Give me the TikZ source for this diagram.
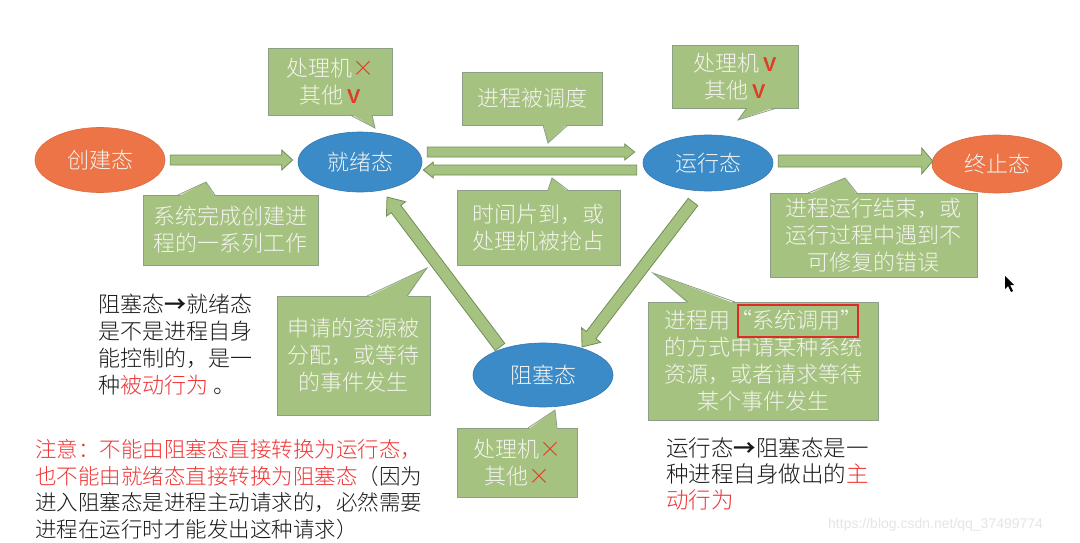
\documentclass[tikz,border=0pt]{standalone}
\usepackage{fontspec}
\setmainfont{Noto Sans CJK SC}[UprightFont=* Light, BoldFont=* Bold]
\newfontfamily\wmfont{Liberation Sans}
\usetikzlibrary{calc,shapes.geometric}
\definecolor{boxg}{HTML}{A6C280}
\definecolor{boxb}{HTML}{8A9F86}
\definecolor{arrg}{HTML}{A6C280}
\definecolor{arrb}{HTML}{6F8F55}
\definecolor{blueE}{HTML}{3B8BC9}
\definecolor{blueB}{HTML}{3478B0}
\definecolor{orgE}{HTML}{EC7446}
\definecolor{orgB}{HTML}{DD6A3E}
\definecolor{txtw}{HTML}{F4F4F0}
\definecolor{redT}{HTML}{EE3535}
\definecolor{xred}{HTML}{E03A2A}
\definecolor{hlred}{HTML}{DD2B25}
\newcommand\blockarrow[5]{%
  \draw[arrb, fill=arrg, line width=0.8pt, line join=miter]
    let \p1=#1, \p2=#2, \n1={atan2(\y2-\y1,\x2-\x1)}, \n2={veclen(\x2-\x1,\y2-\y1)} in
    [shift={(\p1)}, rotate=\n1]
    (0pt,-#3pt) -- (\n2-#5pt,-#3pt) -- (\n2-#5pt,-#4pt) -- (\n2,0pt) --
    (\n2-#5pt,#4pt) -- (\n2-#5pt,#3pt) -- (0pt,#3pt) -- cycle;}
\newcommand\pointer[4]{%
  \fill[boxg] ($#1+#4$) -- #2 -- ($#3+#4$) -- cycle;
  \draw[boxb, line width=0.8pt, line join=miter] #1 -- #2 -- #3;}
\tikzset{
  state/.style={ellipse, inner sep=0pt, text=txtw, line width=0.6pt,
    font=\fontsize{22}{26}\selectfont},
  orangestate/.style={state, fill=orgE, draw=orgB},
  bluestate/.style={state, fill=blueE, draw=blueB},
  callout/.style={rectangle, fill=boxg, draw=boxb, line width=0.8pt, text=txtw,
    align=center, inner sep=0pt, font=\fontsize{22}{27}\selectfont},
  note/.style={inner sep=0pt, align=left, anchor=north west, text=black!90,
    font=\fontsize{22}{27}\selectfont},
}
\newcommand\xx{{\color{xred}×}}
\newcommand\ok{\,{\color{xred}\wmfont\bfseries\fontsize{20}{20}\selectfont V}}
\begin{document}
\begin{tikzpicture}[x=1pt,y=-1pt]
\useasboundingbox[fill=white] (0,0) rectangle (1080,543);

% states
\node[orangestate, minimum width=130pt, minimum height=65pt] (cj) at (100,160) {创建态};
\node[bluestate, minimum width=124pt, minimum height=60pt] (jx) at (360,162) {就绪态};
\node[bluestate, minimum width=130pt, minimum height=56pt] (yx) at (708,163) {运行态};
\node[orangestate, minimum width=130pt, minimum height=58pt] (zz) at (997,164) {终止态};
\node[bluestate, minimum width=140pt, minimum height=64pt] (zs) at (543,375) {阻塞态};

% block arrows
\blockarrow{($(cj.east)+(5,0)$)}{($(jx.west)+(-5,-2)$)}{5}{10}{11}
\blockarrow{($(jx.east)+(5,-10)$)}{($(yx.west)+(-8,-11)$)}{5}{8}{10}
\blockarrow{($(yx.west)+(-6,7)$)}{($(jx.east)+(1,8)$)}{5}{8}{10}
\blockarrow{($(yx.east)+(5,-2)$)}{($(zz.west)+(1,-3)$)}{6}{13}{11}
\blockarrow{($(zs)+(-43,-28)$)}{($(jx)+(27,35)$)}{6}{12}{15}
\blockarrow{($(yx)+(-15,39)$)}{($(zs)+(39,-28)$)}{6}{12}{15}

% callouts
\node[callout, minimum width=124pt, minimum height=67pt] (c1) at (330,81.5) {处理机\xx\\其他\ok};
\pointer{(350,115)}{(375,128)}{(372,115)}{(0,-1.5)}
\node[callout, minimum width=140pt, minimum height=53pt] (c2) at (532,98.5) {进程被调度};
\pointer{(543,125)}{(548,143)}{(568,125)}{(0,-1.5)}
\node[callout, minimum width=126pt, minimum height=63pt] (c3) at (735,76.5) {处理机\ok\\其他\ok};
\pointer{(747,108)}{(738,120)}{(777,108)}{(0,-1.5)}
\node[callout, minimum width=163pt, minimum height=75pt] (c4) at (538.5,227.5) {时间片到，或\\处理机被抢占};
\pointer{(548,190)}{(552,178)}{(568,190)}{(0,1.5)}
\node[callout, minimum width=175pt, minimum height=70pt] (c5) at (230.5,230) {系统完成创建进\\程的一系列工作};
\pointer{(178,195)}{(206,182)}{(215,195)}{(0,1.5)}
\node[callout, minimum width=207pt, minimum height=84pt] (c6) at (873.5,235) {进程运行结束，或\\运行过程中遇到不\\可修复的错误};
\pointer{(808,193)}{(845,178)}{(857,193)}{(0,1.5)}
\node[callout, minimum width=153pt, minimum height=119pt] (c7) at (353.5,355.5) {申请的资源被\\分配，或等待\\的事件发生};
\pointer{(367,296)}{(427,268)}{(407,296)}{(0,1.5)}
\node[callout, minimum width=120pt, minimum height=69pt] (c8) at (517,462.5) {处理机\xx\\其他\xx};
\pointer{(528,428)}{(555,410)}{(557,428)}{(0,1.5)}
\node[callout, minimum width=230pt, minimum height=118pt] (c9) at (763,361) {进程用“系统调用”\\的方式申请某种系统\\资源，或者请求等待\\某个事件发生};
\pointer{(688,302)}{(653,273)}{(735,302)}{(0,1.5)}
\draw[hlred, line width=2.5pt] (738,305) rectangle (858,337);

% notes
\node[note] (n1) at (98,294) {阻塞态{\bfseries →}就绪态\\是不是进程自身\\能控制的，是一\\种{\color{redT}被动行为} 。};
\node[note, font=\fontsize{21.5}{26.8}\selectfont] (n2) at (35,439) {{\color{redT}注意：不能由阻塞态直接转换为运行态，}\\{\color{redT}也不能由就绪态直接转换为阻塞态}（因为\\进入阻塞态是进程主动请求的，必然需要\\进程在运行时才能发出这种请求）};
\node[note, font=\fontsize{22.5}{26}\selectfont] (n3) at (666,437) {运行态{\bfseries →}阻塞态是一\\种进程自身做出的{\color{redT}主}\\{\color{redT}动行为}};

% watermark
\node[anchor=west, inner sep=0pt, text=black!10, font=\wmfont\fontsize{14}{14}\selectfont] (wm) at (828,525) {https://blog.csdn.net/qq\_37499774};

% mouse cursor
\fill[black] (1005,276) -- (1005,289) -- (1008,286) -- (1011,292) -- (1013,291) -- (1010,285) -- (1014,285) -- cycle;
\end{tikzpicture}
\end{document}
